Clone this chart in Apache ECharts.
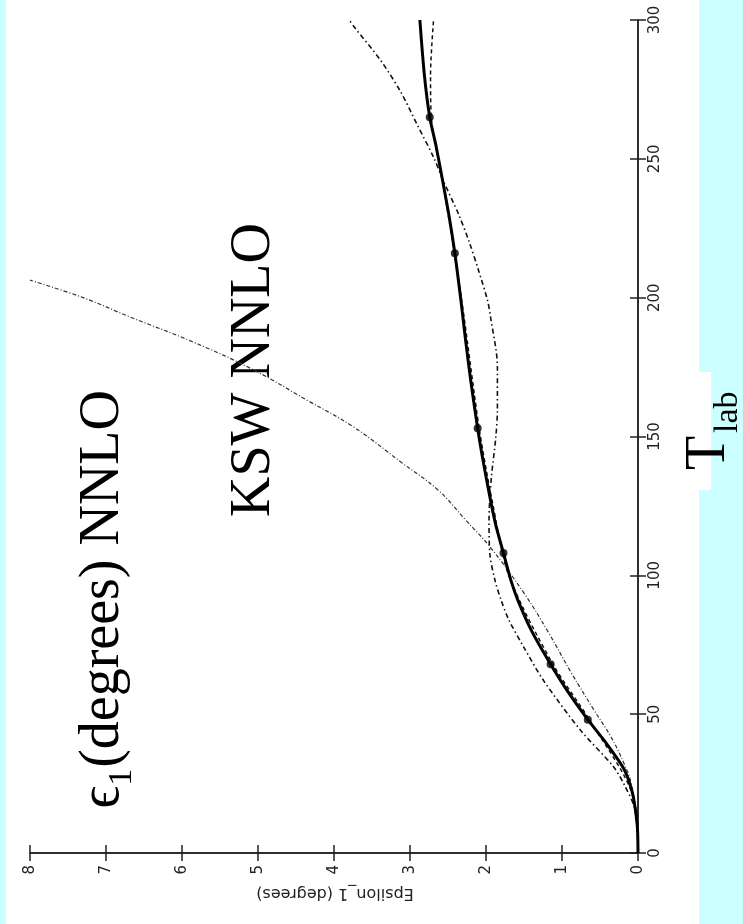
<!DOCTYPE html>
<html>
<head>
<meta charset="utf-8">
<script src="https://cdn.jsdelivr.net/npm/echarts@6/dist/echarts.min.js"></script>
<style>
html,body{margin:0;padding:0;background:#ccffff;}
#white{position:absolute;left:6px;top:0;width:693px;height:924px;background:#fff;}
#tab{position:absolute;left:699px;top:372px;width:12px;height:118px;background:#fff;}
#chart{position:absolute;left:0;top:0;width:743px;height:924px;}
</style>
</head>
<body>
<div id="white"></div>
<div id="tab"></div>
<div id="chart"></div>
<script>
// ---- tick labels ----
const epsTicks = [0, 1, 2, 3, 4, 5, 6, 7, 8];
const tlabTicks = [0, 50, 100, 150, 200, 250, 300];

// ---- thick solid curve (through data points) ----
const tlabA = [0, 10, 20, 26, 31, 40, 48, 58, 68, 80, 91, 98, 108, 118, 127, 140, 153, 170, 185, 199, 216, 230, 242, 255, 265, 280, 300];
const epsA  = [0, 0.01, 0.06, 0.12, 0.2, 0.43, 0.66, 0.92, 1.15, 1.40, 1.58, 1.67, 1.77, 1.87, 1.94, 2.03, 2.11, 2.20, 2.27, 2.33, 2.41, 2.49, 2.57, 2.66, 2.74, 2.81, 2.87];

// ---- data points (markers) ----
const tlabPts = [48, 68, 108, 153, 216, 265];
const epsPts  = [0.66, 1.15, 1.77, 2.11, 2.41, 2.74];

// ---- dashed curve ----
const tlabB = [0, 20, 48, 68, 100, 127, 153, 199, 242, 265, 280, 300];
const epsB  = [0, 0.06, 0.64, 1.12, 1.70, 1.92, 2.09, 2.32, 2.57, 2.72, 2.73, 2.69];

// ---- dash-dot curve ----
const tlabC = [0, 8, 16.6, 24, 31, 44, 62, 74, 84, 91, 98, 108, 120, 135, 150, 160, 175, 193, 199, 210, 220, 230, 242, 250.6, 262, 274, 285.6, 297, 300];
const epsC  = [0, 0.01, 0.05, 0.17, 0.32, 0.75, 1.24, 1.50, 1.70, 1.80, 1.88, 1.95, 1.96, 1.93, 1.87, 1.85, 1.85, 1.94, 1.98, 2.10, 2.22, 2.36, 2.56, 2.69, 2.90, 3.12, 3.39, 3.72, 3.80];

// ---- KSW NNLO steep curve ----
const tlabD = [0, 10, 25, 32, 42, 51.5, 65, 80, 93.6, 110, 120, 130.7, 140.8, 153.4, 163, 174, 184, 193, 200, 206.3];
const epsD  = [0, 0.01, 0.09, 0.18, 0.36, 0.58, 0.88, 1.19, 1.50, 1.94, 2.27, 2.63, 3.12, 3.74, 4.35, 5.06, 5.85, 6.68, 7.3, 8.0];

const pairs = (e, t) => e.map((v, i) => [v, t[i]]);

function measure(text, font) {
  const c = document.createElement('canvas').getContext('2d');
  c.font = font;
  return c.measureText(text).width;
}

const serif = '"Liberation Serif", "Times New Roman", serif';
const FS = 56, FSUB = 34;
const mainText = '(degrees) NNLO';
const wMain = measure(mainText, FS + 'px ' + serif);
const wOne = measure('1', FSUB + 'px ' + serif);
const yMainEnd = 390;
const yMainStart = yMainEnd + wMain;
const yOneStart = yMainStart + wOne + 1;

const chart = echarts.init(document.getElementById('chart'), null, {renderer: 'canvas'});

const tickLabel = {color: '#222', fontFamily: 'DejaVu Sans', fontSize: 15, rotate: 90};
const axLine = {show: true, lineStyle: {color: '#222', width: 1.5}};
const axTick = {show: true, inside: true, length: 8, lineStyle: {color: '#222', width: 1.5}};

const option = {
  backgroundColor: 'transparent',
  animation: false,
  grid: {left: 30, right: 105, top: 20, bottom: 71, show: false},
  xAxis: [
    {type: 'value', position: 'bottom', inverse: true, min: epsTicks[0], max: epsTicks[epsTicks.length - 1], interval: 1,
     axisLine: axLine, axisTick: axTick, splitLine: {show: false},
     axisLabel: Object.assign({margin: 12}, tickLabel)},
    {type: 'value', position: 'top', inverse: true, min: epsTicks[0], max: epsTicks[epsTicks.length - 1], interval: 1,
     axisLine: axLine, axisTick: axTick, splitLine: {show: false}, axisLabel: {show: false}}
  ],
  yAxis: [
    {type: 'value', position: 'right', min: tlabTicks[0], max: tlabTicks[tlabTicks.length - 1], interval: 50,
     axisLine: axLine, axisTick: axTick, splitLine: {show: false},
     axisLabel: Object.assign({margin: 10}, tickLabel)},
    {type: 'value', position: 'left', min: tlabTicks[0], max: tlabTicks[tlabTicks.length - 1], interval: 50,
     axisLine: axLine, axisTick: axTick, splitLine: {show: false}, axisLabel: {show: false}}
  ],
  series: [
    {type: 'line', data: pairs(epsD, tlabD), smooth: 0.4, showSymbol: false,
     lineStyle: {color: '#333', width: 1.2, type: [4, 2, 1, 2]}},
    {type: 'line', data: pairs(epsC, tlabC), smooth: 0.3, showSymbol: false,
     lineStyle: {color: '#111', width: 1.6, type: [5, 3, 1.5, 3]}},
    {type: 'line', data: pairs(epsB, tlabB), smooth: 0.3, showSymbol: false,
     lineStyle: {color: '#111', width: 1.5, type: [4, 3]}},
    {type: 'line', data: pairs(epsA, tlabA), smooth: 0.3, showSymbol: false,
     lineStyle: {color: '#000', width: 3}},
    {type: 'scatter', data: pairs(epsPts, tlabPts), symbol: 'circle', symbolSize: 8,
     itemStyle: {color: '#000'}}
  ],
  graphic: [
    {type: 'text', x: 335, y: 893, rotation: Math.PI,
     style: {text: 'Epsilon_1 (degrees)', fontFamily: 'DejaVu Sans', fontSize: 16, fill: '#222', align: 'center', verticalAlign: 'middle'}},
    {type: 'text', x: 103, y: yMainEnd, rotation: Math.PI / 2,
     style: {text: mainText, font: FS + 'px ' + serif, fill: '#000', align: 'right', verticalAlign: 'middle'}},
    {type: 'text', x: 122, y: yMainStart + 1, rotation: Math.PI / 2,
     style: {text: '1', font: FSUB + 'px ' + serif, fill: '#000', align: 'right', verticalAlign: 'middle'}},
    {type: 'text', x: 103, y: yOneStart, rotation: Math.PI / 2,
     style: {text: 'ϵ', font: FS + 'px ' + serif, fill: '#000', align: 'right', verticalAlign: 'middle'}},
    {type: 'text', x: 254, y: 517, rotation: Math.PI / 2,
     style: {text: 'KSW NNLO', font: FS + 'px ' + serif, fill: '#000', align: 'left', verticalAlign: 'middle'}},
    {type: 'text', x: 709, y: 470, rotation: Math.PI / 2,
     style: {text: 'T', font: FS + 'px ' + serif, fill: '#000', align: 'left', verticalAlign: 'middle'}},
    {type: 'text', x: 728, y: 433, rotation: Math.PI / 2,
     style: {text: 'lab', font: FSUB + 'px ' + serif, fill: '#000', align: 'left', verticalAlign: 'middle'}}
  ]
};
chart.setOption(option);
</script>
</body>
</html>
